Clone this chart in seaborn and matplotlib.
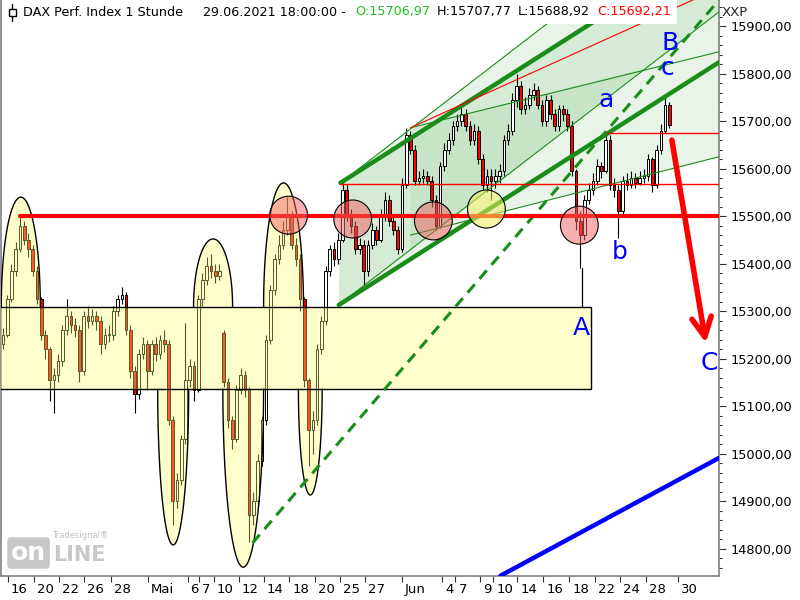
import numpy as np
import matplotlib
matplotlib.use("Agg")
import matplotlib.pyplot as plt
from matplotlib.patches import Rectangle, Ellipse, Polygon
from matplotlib.lines import Line2D
from matplotlib.ticker import MultipleLocator, FuncFormatter
import seaborn as sns

# hourly DAX, sampled as 3 bars per trading day (bar index on x)
closes = [15250, 15325, 15385, 15430, 15480, 15450, 15430, 15385, 15325, 15250,
          15220, 15155, 15165, 15195, 15260, 15290, 15270, 15260, 15175, 15290,
          15280, 15290, 15280, 15230, 15250, 15250, 15300, 15325, 15335, 15260,
          15175, 15125, 15210, 15230, 15175, 15230, 15210, 15240, 15230, 15070,
          14900, 14945, 15030, 15155, 15185, 15135, 15325, 15365, 15395, 15385,
          15375, 15385, 15150, 15070, 15030, 15135, 15165, 15135, 14870, 14900,
          14985, 15070, 15240, 15345, 15410, 15440, 15470, 15500, 15440, 15410,
          15325, 15155, 15050, 15070, 15220, 15280, 15385, 15430, 15410, 15450,
          15555, 15500, 15480, 15430, 15440, 15385, 15440, 15470, 15450, 15500,
          15535, 15490, 15470, 15430, 15565, 15670, 15640, 15575, 15580, 15585,
          15575, 15535, 15480, 15605, 15640, 15660, 15690, 15700, 15715, 15690,
          15660, 15680, 15620, 15565, 15585, 15575, 15585, 15595, 15660, 15680,
          15745, 15775, 15725, 15735, 15755, 15765, 15735, 15700, 15745, 15715,
          15690, 15725, 15715, 15690, 15595, 15490, 15460, 15535, 15555, 15575,
          15605, 15595, 15660, 15565, 15555, 15510, 15575, 15565, 15580, 15570,
          15580, 15585, 15620, 15565, 15640, 15680, 15735, 15692]
highs = [15265, 15335, 15400, 15445, 15500, 15490, 15465, 15440, 15395, 15330,
         15260, 15225, 15180, 15210, 15270, 15325, 15300, 15285, 15270, 15300,
         15310, 15305, 15300, 15290, 15265, 15270, 15310, 15335, 15350, 15340,
         15270, 15185, 15220, 15245, 15240, 15240, 15245, 15250, 15260, 15240,
         15080, 14960, 15040, 15275, 15200, 15195, 15335, 15380, 15415, 15420,
         15400, 15400, 15260, 15160, 15080, 15145, 15180, 15175, 15140, 14920,
         15000, 15080, 15250, 15355, 15420, 15460, 15490, 15540, 15510, 15455,
         15420, 15330, 15160, 15090, 15230, 15290, 15395, 15440, 15445, 15465,
         15570, 15565, 15515, 15490, 15455, 15450, 15450, 15485, 15480, 15515,
         15550, 15545, 15500, 15480, 15580, 15685, 15680, 15650, 15595, 15600,
         15595, 15585, 15545, 15615, 15655, 15675, 15700, 15715, 15730, 15725,
         15700, 15695, 15690, 15630, 15600, 15600, 15600, 15610, 15670, 15695,
         15760, 15800, 15785, 15750, 15770, 15780, 15775, 15745, 15755, 15755,
         15725, 15735, 15735, 15725, 15700, 15600, 15510, 15545, 15570, 15590,
         15620, 15615, 15675, 15670, 15580, 15565, 15585, 15590, 15595, 15590,
         15595, 15600, 15630, 15625, 15650, 15695, 15750, 15740]
lows = [15220, 15245, 15320, 15375, 15425, 15440, 15415, 15375, 15315, 15240,
        15200, 15110, 15085, 15150, 15185, 15250, 15255, 15245, 15150, 15165,
        15265, 15270, 15260, 15210, 15220, 15235, 15240, 15290, 15315, 15250,
        15160, 15085, 15115, 15200, 15135, 15165, 15195, 15200, 15215, 15060,
        14850, 14885, 14935, 15020, 15140, 15110, 15130, 15310, 15355, 15370,
        15360, 15365, 15140, 15055, 15010, 15025, 15125, 15120, 14815, 14850,
        14890, 14975, 15060, 15230, 15335, 15400, 15430, 15460, 15430, 15395,
        15300, 15140, 14975, 15000, 15060, 15210, 15270, 15375, 15395, 15400,
        15445, 15490, 15465, 15420, 15420, 15355, 15375, 15430, 15440, 15445,
        15490, 15480, 15460, 15420, 15425, 15560, 15630, 15565, 15565, 15570,
        15565, 15520, 15470, 15475, 15595, 15630, 15650, 15680, 15690, 15680,
        15650, 15650, 15610, 15555, 15550, 15535, 15560, 15570, 15585, 15650,
        15670, 15730, 15715, 15715, 15725, 15745, 15725, 15690, 15690, 15705,
        15680, 15680, 15700, 15680, 15585, 15470, 15390, 15450, 15525, 15545,
        15565, 15580, 15590, 15555, 15540, 15455, 15505, 15555, 15560, 15560,
        15565, 15570, 15575, 15550, 15560, 15630, 15675, 15685]
opens = [15230] + closes[:-1]
opens[52] = 15255  # gap down open

tick_pos = [1.2, 7.3, 13.2, 19.1, 25.4, 34.1, 43.5, 46.1, 49.6, 55.5, 61.4, 67.5, 73.6,
            79.5, 85.4, 93.9, 103.5, 106.6, 112.5, 115.5, 121.2, 127.3, 133.4, 139.5,
            145.4, 151.5, 159.1]
tick_labels = ["16", "20", "22", "26", "28", "Mai", "6", "7", "10", "12", "14", "18", "20",
               "25", "27", "Jun", "4", "7", "9", "10", "14", "16", "18", "22", "24", "28", "30"]

# drawing tool anchors (bar, price)
zone_bars = [-1, 138.6]
zone_prices = [15136, 15309]
domes = [(4.2, 4.6, 15540), (49.5, 4.6, 15452), (66.1, 4.7, 15570)]      # above zone top
bowls = [(40.1, 3.65, 14808), (56.6, 4.8, 14761), (72.4, 2.8, 14913)]    # below zone bottom
red_circles = [(67.3, 15502), (82.4, 15494), (101.4, 15490), (135.8, 15481)]
yellow_circles = [(113.9, 15515)]

ch_upper = ([79.5, 168.7], [15570, 16077])
ch_lower = ([79.1, 168.7], [15313, 15824])
fan_outer = ([79.5, 168.7], [15570, 16184])
fan_inner = ([79.1, 168.7], [15313, 15930])
flat_upper = ([96.0, 168.7], [15686, 15846])
flat_lower = ([96.0, 168.7], [15460, 15625])
red_diag = ([96.0, 168.7], [15686, 15980])
dashed_trend = ([58.8, 168.7], [14812, 15955])
blue_trend = ([117.2, 168.7], [14743, 14991])
arrow_from = (157.6, 15660)
arrow_to = (165.6, 15233)

hlines = [(15500, 4.0, 3.0), (15568, 79.5, 1.0), (15675, 142.4, 1.0)]  # price, start bar, width
wave_labels = [("A", 136.2, 15265), ("B", 157.2, 15864), ("c", 156.5, 15812),
               ("a", 142.1, 15745), ("b", 145.2, 15425), ("C", 166.4, 15191)]

sns.set_theme(style="white")
plt.rcParams["font.family"] = ["DejaVu Sans"]

fig = plt.figure(figsize=(8, 6), dpi=100)
ax = fig.add_axes([1 / 800, 24 / 600, 718 / 800, 576 / 600])
ax.set_xlim(-0.47, 168.7)
ax.set_ylim(14742.5, 15955)

green = "#8fc98f"
# channel shading
ax.add_patch(Polygon([(ch_upper[0][0], ch_upper[1][0]), (ch_upper[0][1], ch_upper[1][1]),
                      (ch_lower[0][1], ch_lower[1][1]), (ch_lower[0][0], ch_lower[1][0])],
                     closed=True, fc=green, alpha=0.2, ec="none", zorder=1))
ax.add_patch(Polygon([(fan_outer[0][0], fan_outer[1][0]), (fan_outer[0][1], fan_outer[1][1]),
                      (fan_inner[0][1], fan_inner[1][1]), (fan_inner[0][0], fan_inner[1][0])],
                     closed=True, fc=green, alpha=0.2, ec="none", zorder=1))
ax.add_patch(Polygon([(96.0, 15686), (150.7, 15810), (96.0, 15430)],
                     closed=True, fc=green, alpha=0.2, ec="none", zorder=1))
ax.add_patch(Polygon([(111.5, 15498), (168.7, 15824), (168.7, 15625)],
                     closed=True, fc=green, alpha=0.2, ec="none", zorder=1))

# candles
x = np.arange(len(closes))
o = np.array(opens)
c = np.array(closes)
up = c >= o
ax.vlines(x, lows, highs, color="black", lw=0.8, zorder=2)
body_lo = np.minimum(o, c)
body_h = np.maximum(np.abs(c - o), 2)
ax.bar(x[up], body_h[up], bottom=body_lo[up], width=0.62, color="white",
       edgecolor="black", linewidth=0.7, zorder=2.1)
ax.bar(x[~up], body_h[~up], bottom=body_lo[~up], width=0.62, color="#ff0000",
       edgecolor="black", linewidth=0.7, zorder=2.1)

# yellow zone and half-ellipses
yel = "#ffff6e"
ax.add_patch(Rectangle((zone_bars[0], zone_prices[0]), zone_bars[1] - zone_bars[0],
                       zone_prices[1] - zone_prices[0], fc=yel, alpha=0.35, ec="none", zorder=3))
ax.add_patch(Rectangle((zone_bars[0], zone_prices[0]), zone_bars[1] - zone_bars[0],
                       zone_prices[1] - zone_prices[0], fc="none", ec="black", lw=1, zorder=3.5))
t = np.linspace(0, np.pi, 80)
for cx, hw, top in domes:
    xs = cx + hw * np.cos(t)
    ys = zone_prices[1] + (top - zone_prices[1]) * np.sin(t)
    ax.fill(xs, ys, fc=yel, alpha=0.35, ec="none", zorder=3)
    ax.plot(xs, ys, color="black", lw=1, zorder=3.5)
for cx, hw, bot in bowls:
    xs = cx + hw * np.cos(t)
    ys = zone_prices[0] - (zone_prices[0] - bot) * np.sin(t)
    ax.fill(xs, ys, fc=yel, alpha=0.35, ec="none", zorder=3)
    ax.plot(xs, ys, color="black", lw=1, zorder=3.5)

# A wick down to the zone
ax.plot([136.4, 136.4], [15391, zone_prices[1]], color="black", lw=0.9, zorder=3.5)

# trend lines
dkgreen = "#1a8c1a"
for line in [ch_upper, ch_lower]:
    sns.lineplot(x=line[0], y=line[1], color=dkgreen, lw=3.2, ax=ax, zorder=4, legend=False)
for line in [fan_outer, fan_inner, flat_upper, flat_lower]:
    sns.lineplot(x=line[0], y=line[1], color=dkgreen, lw=0.8, ax=ax, zorder=4, legend=False)
sns.lineplot(x=red_diag[0], y=red_diag[1], color="#ff0000", lw=0.8, ax=ax, zorder=4, legend=False)
ax.plot(dashed_trend[0], dashed_trend[1], color=dkgreen, lw=2.2,
        linestyle=(0, (3.6, 2.4)), zorder=4)
sns.lineplot(x=blue_trend[0], y=blue_trend[1], color="#0000ff", lw=3.2, ax=ax, zorder=4, legend=False)
for price, start, w in hlines:
    ax.plot([start, 168.7], [price, price], color="#ff0000", lw=w, zorder=4)

ax.annotate("", xy=arrow_to, xytext=arrow_from,
            arrowprops=dict(arrowstyle="->, head_length=0.7, head_width=0.35",
                            color="#ff0000", lw=4, mutation_scale=20, shrinkA=0, shrinkB=0),
            zorder=4)

# circles
for cx, cy in red_circles:
    ax.add_patch(Ellipse((cx, cy), 8.9, 80, fc="#f06060", alpha=0.5, ec="none", zorder=5))
    ax.add_patch(Ellipse((cx, cy), 8.9, 80, fc="none", ec="black", lw=0.8, zorder=5))
for cx, cy in yellow_circles:
    ax.add_patch(Ellipse((cx, cy), 8.9, 80, fc="#f0f060", alpha=0.55, ec="none", zorder=5))
    ax.add_patch(Ellipse((cx, cy), 8.9, 80, fc="none", ec="black", lw=0.8, zorder=5))

for txt, bx, py in wave_labels:
    ax.text(bx, py, txt, color="#0000ff", fontsize=18, ha="center", va="center", zorder=6)

# axes styling
ax.spines["top"].set_visible(False)
for side in ["left", "right", "bottom"]:
    ax.spines[side].set_color("#808080")
    ax.spines[side].set_linewidth(1.2)
ax.yaxis.tick_right()
ax.yaxis.set_major_locator(MultipleLocator(100))
ax.yaxis.set_minor_locator(MultipleLocator(20))
ax.yaxis.set_major_formatter(FuncFormatter(lambda v, p: f"{v:.2f}".replace(".", ",")))
ax.tick_params(axis="y", which="major", length=5, width=0.8, color="#303030",
               labelsize=9.3, pad=3, labelcolor="black", right=True, left=False)
ax.tick_params(axis="y", which="minor", length=2.5, width=0.8, color="#303030", right=True, left=False)
ax.set_xticks(tick_pos)
ax.set_xticklabels([""] * len(tick_pos))
ax.tick_params(axis="x", length=4, width=0.8, color="#303030", direction="out", bottom=True)
for pos, lab in zip(tick_pos, tick_labels):
    ax.text(pos + 0.7, -0.012, lab, transform=ax.get_xaxis_transform(), ha="left", va="top",
            fontsize=9.5, color="black", clip_on=False)
ax.grid(False)

# header
fig.add_artist(Rectangle((2 / 800, 1 - 24 / 600), 675 / 800, 24 / 600, transform=fig.transFigure,
                         fc="white", ec="none", zorder=10))
fig.add_artist(Line2D([12 / 800, 12 / 800], [1 - 21 / 600, 1 - 4 / 600], color="black", lw=1,
                      transform=fig.transFigure, zorder=11))
fig.add_artist(Rectangle((8.5 / 800, 1 - 16 / 600), 7 / 800, 7 / 600, transform=fig.transFigure,
                         fc="white", ec="black", lw=1, zorder=12))
header = [("DAX Perf. Index 1 Stunde", 23, "black"), ("29.06.2021 18:00:00 -", 203, "black"),
          ("O:15706,97", 355, "#22c022"), ("H:15707,77", 437, "black"),
          ("L:15688,92", 518, "black"), ("C:15692,21", 597, "#ff0000")]
for txt, px, col in header:
    fig.text(px / 800, 1 - 12 / 600, txt, color=col, fontsize=9.2, ha="left", va="center", zorder=13)
fig.text(722 / 800, 1 - 12 / 600, "XXP", fontsize=9.6, ha="left", va="center")

# watermark
fig.text(11 / 800, 1 - 553 / 600, "on", fontsize=18, fontweight="bold", color="white",
         ha="left", va="center", bbox=dict(boxstyle="round,pad=0.15", fc="#c8c8c8", ec="none"))
fig.text(53 / 800, 1 - 555 / 600, "LINE", fontsize=15, fontweight="bold", color="#c8c8c8",
         ha="left", va="center")
fig.text(52 / 800, 1 - 536 / 600, "Tradesignal®", fontsize=6, color="#c0c0c0",
         ha="left", va="center")

fig.savefig("out.png", dpi=100)
